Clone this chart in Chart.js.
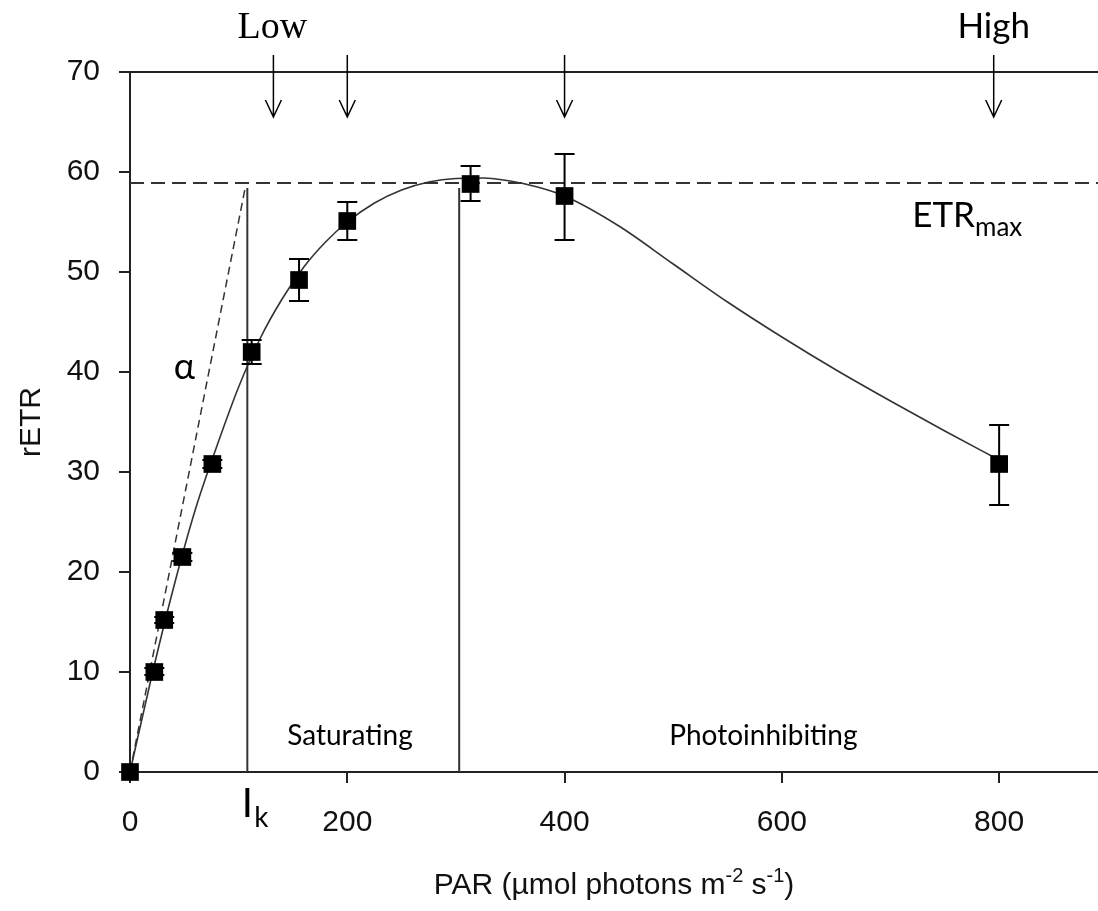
<!DOCTYPE html>
<html>
<head>
<meta charset="utf-8">
<script src="https://cdn.jsdelivr.net/npm/chart.js@4/dist/chart.umd.min.js"></script>
<style>
  html, body { margin: 0; padding: 0; background: #fff; }
  #wrap { width: 1098px; height: 911px; position: relative; }
</style>
</head>
<body>
<div id="wrap"><canvas id="c" width="1098" height="911"></canvas></div>
<script>
// ---- data ----
const parValues = [0, 22.4, 31.5, 48.2, 75.8, 112, 155.6, 200, 313.5, 400, 800];
const etrValues = [0, 10.0, 15.2, 21.5, 30.8, 42.0, 49.2, 55.1, 58.8, 57.6, 30.8];
const errLow    = [0, 9.7, 14.9, 21.1, 30.4, 40.8, 47.1, 53.2, 57.1, 53.2, 26.7];
const errHigh   = [0, 10.4, 15.5, 21.9, 31.2, 43.2, 51.3, 57.0, 60.6, 61.8, 34.7];

const fitPAR = [0, 20, 40, 60, 80, 100, 120, 140, 160, 180, 200, 225, 250, 275, 300, 325, 350, 375, 400, 450, 500, 550, 600, 650, 700, 750, 800];
const fitETR = [0, 9.6, 18.4, 26.2, 32.6, 38.5, 43.4, 47.3, 50.5, 53.0, 55.0, 56.9, 58.2, 59.0, 59.35, 59.4, 59.1, 58.5, 57.6, 54.6, 50.8, 47.0, 43.5, 40.2, 37.1, 34.1, 31.2];

const etrMax = 58.9;
const alphaLinePAR = [0, 106];
const alphaLineETR = [0, 58.4];
const ikPAR = 108;
const satEndPAR = 303;
const markerLineTop = 58.4;
const arrowPAR = [132, 200, 400, 795];

const xTickLabels = [0, 200, 400, 600, 800];
const yTickLabels = [0, 10, 20, 30, 40, 50, 60, 70];
const xMax = 891;

// ---- build datasets ----
const pts = parValues.map((x, i) => ({ x, y: etrValues[i] }));
const fit = fitPAR.map((x, i) => ({ x, y: fitETR[i] }));
const alphaLine = alphaLinePAR.map((x, i) => ({ x, y: alphaLineETR[i] }));

const SANS = '"Liberation Sans", Arial, sans-serif';
const CAL = 'Lato, "Open Sans", sans-serif';
const SERIF = '"Liberation Serif", "Times New Roman", serif';

const annot = {
  id: 'annot',
  beforeDatasetsDraw(chart) {
    const { ctx, chartArea: a } = chart;
    ctx.save();
    ctx.strokeStyle = '#222';
    ctx.lineWidth = 2;
    ctx.beginPath();
    ctx.moveTo(a.left, a.top);
    ctx.lineTo(a.right, a.top);
    ctx.stroke();
    ctx.restore();
  },
  afterDatasetsDraw(chart) {
    const { ctx, scales: { x, y } } = chart;
    ctx.save();
    ctx.strokeStyle = '#000';
    ctx.lineWidth = 2;
    parValues.forEach((p, i) => {
      if (errHigh[i] - errLow[i] <= 0) return;
      const px = x.getPixelForValue(p);
      const y1 = y.getPixelForValue(errLow[i]);
      const y2 = y.getPixelForValue(errHigh[i]);
      ctx.beginPath();
      ctx.moveTo(px, y1); ctx.lineTo(px, y2);
      ctx.moveTo(px - 10, y1); ctx.lineTo(px + 10, y1);
      ctx.moveTo(px - 10, y2); ctx.lineTo(px + 10, y2);
      ctx.stroke();
    });
    ctx.restore();
  },
  afterDraw(chart) {
    const { ctx, chartArea: a, scales: { x, y } } = chart;
    ctx.save();
    ctx.fillStyle = '#000';
    ctx.strokeStyle = '#000';
    // arrows
    ctx.lineWidth = 1.5;
    arrowPAR.forEach(p => {
      const px = x.getPixelForValue(p);
      const top = a.top - 17, tip = a.top + 45;
      ctx.beginPath();
      ctx.moveTo(px, top); ctx.lineTo(px, tip);
      ctx.moveTo(px - 8, tip - 17); ctx.lineTo(px, tip); ctx.lineTo(px + 8, tip - 17);
      ctx.stroke();
    });
    // Low / High
    ctx.textAlign = 'center';
    ctx.textBaseline = 'alphabetic';
    ctx.font = '38px ' + SERIF;
    ctx.fillText('Low', x.getPixelForValue(arrowPAR[0]) - 1, a.top - 34);
    ctx.font = '35px ' + CAL;
    ctx.fillText('High', x.getPixelForValue(arrowPAR[3]), a.top - 34);
    // ETRmax
    ctx.textAlign = 'left';
    ctx.font = '35px ' + CAL;
    const ex = x.getPixelForValue(720), ey = y.getPixelForValue(54.5);
    ctx.fillText('ETR', ex, ey);
    const w = ctx.measureText('ETR').width;
    ctx.font = '26px ' + CAL;
    ctx.fillText('max', ex + w, ey + 9);
    // alpha
    ctx.textAlign = 'center';
    ctx.textBaseline = 'middle';
    ctx.font = '36px ' + CAL;
    ctx.fillText('α', x.getPixelForValue(50), y.getPixelForValue(40.5));
    // region labels
    ctx.font = '28px ' + CAL;
    ctx.fillText('Saturating', x.getPixelForValue(202.5), y.getPixelForValue(3.6));
    ctx.fillText('Photoinhibiting', x.getPixelForValue(583), y.getPixelForValue(3.6));
    // I_k
    ctx.textBaseline = 'alphabetic';
    ctx.textAlign = 'center';
    const ikx = x.getPixelForValue(ikPAR);
    ctx.font = '40px ' + CAL;
    ctx.fillText('I', ikx, a.bottom + 45);
    ctx.textAlign = 'left';
    ctx.font = '28px ' + CAL;
    ctx.fillText('k', ikx + 7, a.bottom + 55);
    // axis titles
    ctx.fillStyle = '#111';
    const parts = [
      { t: 'PAR (µmol photons m', s: 30, dy: 0 },
      { t: '-2', s: 20, dy: -12 },
      { t: ' s', s: 30, dy: 0 },
      { t: '-1', s: 20, dy: -12 },
      { t: ')', s: 30, dy: 0 }
    ];
    let total = 0;
    parts.forEach(p => { ctx.font = p.s + 'px ' + SANS; p.w = ctx.measureText(p.t).width; total += p.w; });
    let cx = (a.left + a.right) / 2 - total / 2;
    const by = a.bottom + 122;
    ctx.textAlign = 'left';
    parts.forEach(p => { ctx.font = p.s + 'px ' + SANS; ctx.fillText(p.t, cx, by + p.dy); cx += p.w; });
    ctx.translate(32, (a.top + a.bottom) / 2);
    ctx.rotate(-Math.PI / 2);
    ctx.textAlign = 'center';
    ctx.textBaseline = 'middle';
    ctx.font = '30px ' + SANS;
    ctx.fillText('rETR', 0, 0);
    ctx.restore();
  }
};

new Chart(document.getElementById('c'), {
  type: 'scatter',
  data: {
    datasets: [
      { label: 'ETRmax', type: 'line', data: [{ x: 0, y: etrMax }, { x: xMax, y: etrMax }],
        borderColor: '#333', borderWidth: 2, borderDash: [14, 7], pointRadius: 0, fill: false, order: 5 },
      { label: 'alpha', type: 'line', data: alphaLine,
        borderColor: '#333', borderWidth: 1.5, borderDash: [8, 5], pointRadius: 0, fill: false, order: 5 },
      { label: 'Ik', type: 'line', data: [{ x: ikPAR, y: 0 }, { x: ikPAR, y: markerLineTop }],
        borderColor: '#333', borderWidth: 2, pointRadius: 0, fill: false, order: 5 },
      { label: 'sat', type: 'line', data: [{ x: satEndPAR, y: 0 }, { x: satEndPAR, y: markerLineTop }],
        borderColor: '#333', borderWidth: 2, pointRadius: 0, fill: false, order: 5 },
      { label: 'fit', type: 'line', data: fit,
        borderColor: '#333', borderWidth: 1.6, pointRadius: 0, fill: false, tension: 0.4,
        cubicInterpolationMode: 'monotone', order: 4 },
      { label: 'rETR', data: pts, pointStyle: 'rect', pointRadius: 12.5, pointHoverRadius: 12.5,
        backgroundColor: '#000', borderColor: '#000', borderWidth: 0, clip: false, order: 1 }
    ]
  },
  options: {
    responsive: false,
    animation: false,
    events: [],
    layout: { padding: { top: 72, left: 0, right: 0, bottom: 0 }, autoPadding: false },
    plugins: { legend: { display: false }, tooltip: { enabled: false } },
    scales: {
      x: {
        type: 'linear', position: 'bottom', min: 0, max: xMax,
        afterBuildTicks: s => { s.ticks = xTickLabels.map(v => ({ value: v })); },
        afterFit: s => { s.height = 911 - 772; },
        grid: { drawOnChartArea: false, drawTicks: true, tickLength: 11, color: '#222', lineWidth: 2 },
        border: { display: true, color: '#222', width: 2 },
        ticks: { color: '#111', font: { family: SANS, size: 30 }, padding: 22, maxRotation: 0 }
      },
      y: {
        type: 'linear', position: 'left', min: 0, max: 70,
        afterBuildTicks: s => { s.ticks = yTickLabels.map(v => ({ value: v })); },
        afterFit: s => { s.width = 130; },
        grid: { drawOnChartArea: false, drawTicks: true, tickLength: 11, color: '#222', lineWidth: 2 },
        border: { display: true, color: '#222', width: 2 },
        ticks: { color: '#111', font: { family: SANS, size: 30 }, padding: 19 }
      }
    }
  },
  plugins: [annot]
});
</script>
</body>
</html>
